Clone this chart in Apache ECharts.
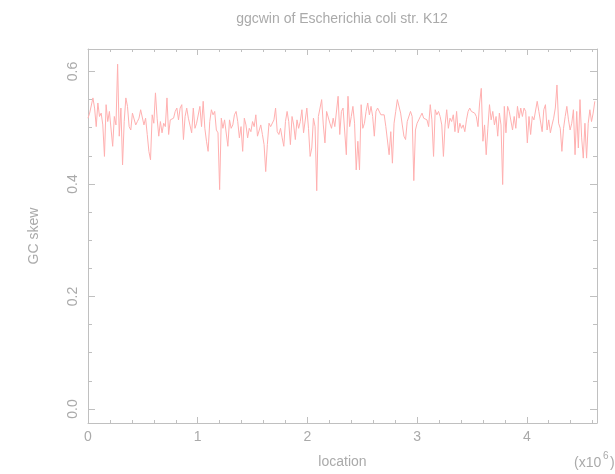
<!DOCTYPE html>
<html>
<head>
<meta charset="utf-8">
<script src="https://cdn.jsdelivr.net/npm/echarts@6/dist/echarts.min.js"></script>
<style>
html,body{margin:0;padding:0;background:#fff;}
#chart{width:615px;height:474px;}
</style>
</head>
<body>
<div id="chart"></div>
<script>
// ---- data (GC skew per window) ----
const titleText = 'ggcwin of Escherichia coli str. K12';
const xName = 'location';
const yName = 'GC skew';
const windowStepMb = 0.015; // window spacing, in units of 10^6 bp
const gcSkew = [
0.517,0.526,0.529,0.553,0.535,0.502,0.544,0.520,0.526,0.505,0.449,0.541,0.511,0.529,0.526,0.467,0.520,0.505,0.613,0.485,0.535,0.434,0.511,0.553,0.538,0.502,0.496,0.526,0.523,0.505,0.511,0.517,0.532,0.529,0.505,0.517,0.488,0.458,0.443,0.523,0.508,0.562,0.517,0.485,0.511,0.491,0.508,0.502,0.553,0.488,0.514,0.511,
0.517,0.529,0.535,0.514,0.535,0.541,0.479,0.520,0.535,0.517,0.520,0.491,0.535,0.499,0.508,0.505,0.538,0.502,0.547,0.499,0.476,0.458,0.511,0.532,0.523,0.529,0.496,0.491,0.390,0.517,0.499,0.514,0.517,0.467,0.514,0.499,0.505,0.523,0.529,0.511,0.482,0.502,0.458,0.517,0.505,0.482,0.499,0.493,0.511,0.502,0.523,0.485,
0.482,0.505,0.488,0.470,0.422,0.470,0.508,0.502,0.499,0.514,0.535,0.493,0.488,0.499,0.482,0.467,0.511,0.529,0.511,0.470,0.520,0.505,0.479,0.514,0.499,0.511,0.532,0.491,0.488,0.535,0.499,0.449,0.464,0.517,0.502,0.388,0.520,0.517,0.550,0.505,0.473,0.529,0.532,0.508,0.499,0.517,0.502,0.505,0.556,0.488,0.529,0.535,
0.538,0.452,0.556,0.502,0.520,0.538,0.508,0.425,0.476,0.425,0.541,0.499,0.508,0.529,0.544,0.523,0.538,0.520,0.485,0.529,0.535,0.532,0.523,0.520,0.523,0.502,0.499,0.452,0.493,0.437,0.508,0.529,0.550,0.553,0.526,0.505,0.485,0.479,0.511,0.508,0.529,0.520,0.406,0.496,0.508,0.514,0.520,0.526,0.517,0.520,0.514,0.502,0.541,
0.514,0.449,0.532,0.523,0.529,0.520,0.505,0.449,0.505,0.532,0.499,0.517,0.511,0.523,0.493,0.529,0.491,0.508,0.499,0.505,0.493,0.514,0.529,0.535,0.529,0.529,0.526,0.520,0.502,0.544,0.570,0.476,0.505,0.452,0.499,0.541,0.514,0.529,0.505,0.520,0.485,0.526,0.505,0.399,0.538,0.491,0.538,0.529,0.532,0.496,0.520,0.499,
0.538,0.517,0.535,0.520,0.535,0.529,0.473,0.520,0.488,0.520,0.514,0.517,0.547,0.529,0.526,0.493,0.532,0.541,0.496,0.514,0.491,0.505,0.517,0.535,0.576,0.508,0.499,0.458,0.499,0.520,0.538,0.514,0.496,0.508,0.532,0.452,0.529,0.464,0.550,0.482,0.446,0.508,0.446,0.508,0.532,0.511,0.526,0.547
];
const xMajorTicks = [0, 1, 2, 3, 4];
const xMinorTicks = [0.2,0.4,0.6,0.8,1.2,1.4,1.6,1.8,2.2,2.4,2.6,2.8,3.2,3.4,3.6,3.8,4.2,4.4,4.6];
const yMajorTicks = [0.0, 0.2, 0.4, 0.6];
const yMinorTicks = [0.05,0.1,0.15,0.25,0.3,0.35,0.45,0.5,0.55];
const xRange = [0, 4.64];
const yRange = [-0.025, 0.64];

// ---- chart ----
const frameColor = '#c0c0c0';
const textColor = '#aaaaaa';
const fontFamily = '"Liberation Sans", Arial, Helvetica, sans-serif';
const lineColor = '#ffb0b0';

const points = gcSkew.map((v, i) => [i * windowStepMb, v]);

function xAxisDef(pos, ticks, len, withLine, withLabel) {
  return {
    type: 'value', position: pos, min: xRange[0], max: xRange[1],
    axisLine: {show: withLine, onZero: false, lineStyle: {color: frameColor, width: 1}},
    axisTick: {show: true, inside: true, length: len, customValues: ticks, lineStyle: {color: frameColor, width: 1}},
    axisLabel: withLabel ? {show: true, customValues: ticks, margin: 7, color: textColor, fontSize: 14, fontFamily: fontFamily, formatter: v => String(v)} : {show: false},
    splitLine: {show: false},
    name: withLabel ? xName : '', nameLocation: 'middle', nameGap: 32,
    nameTextStyle: {color: textColor, fontSize: 14, fontFamily: fontFamily}
  };
}
function yAxisDef(pos, ticks, len, withLine, withLabel) {
  return {
    type: 'value', position: pos, min: yRange[0], max: yRange[1],
    axisLine: {show: withLine, onZero: false, lineStyle: {color: frameColor, width: 1}},
    axisTick: {show: true, inside: true, length: len, customValues: ticks, lineStyle: {color: frameColor, width: 1}},
    axisLabel: withLabel ? {show: true, customValues: ticks, margin: 8, rotate: 90, color: textColor, fontSize: 14, fontFamily: fontFamily, formatter: v => v.toFixed(1)} : {show: false},
    splitLine: {show: false},
    name: withLabel ? yName : '', nameLocation: 'middle', nameGap: 47, nameRotate: 90,
    nameTextStyle: {color: textColor, fontSize: 14, fontFamily: fontFamily}
  };
}

const chart = echarts.init(document.getElementById('chart'), null, {renderer: 'canvas'});
chart.setOption({
  animation: false,
  backgroundColor: '#ffffff',
  grid: {left: 88, right: 18, top: 49, bottom: 49, containLabel: false},
  xAxis: [
    xAxisDef('bottom', xMajorTicks, 6, true, true),
    xAxisDef('bottom', xMinorTicks, 3, false, false),
    xAxisDef('top', xMajorTicks, 6, true, false),
    xAxisDef('top', xMinorTicks, 3, false, false)
  ],
  yAxis: [
    yAxisDef('left', yMajorTicks, 7, true, true),
    yAxisDef('left', yMinorTicks, 4, false, false),
    yAxisDef('right', yMajorTicks, 7, true, false),
    yAxisDef('right', yMinorTicks, 4, false, false)
  ],
  graphic: [
    {type: 'text', x: 342, y: 19, style: {text: titleText, fill: textColor, font: '14px ' + fontFamily, textAlign: 'center', textVerticalAlign: 'middle'}},
    {type: 'text', x: 574, y: 463, style: {text: '(x10', fill: textColor, font: '14px ' + fontFamily, textAlign: 'left', textVerticalAlign: 'middle'}},
    {type: 'text', x: 603, y: 456, style: {text: '6', fill: textColor, font: '10px ' + fontFamily, textAlign: 'left', textVerticalAlign: 'middle'}},
    {type: 'text', x: 610, y: 463, style: {text: ')', fill: textColor, font: '14px ' + fontFamily, textAlign: 'left', textVerticalAlign: 'middle'}}
  ],
  series: [{
    type: 'line', xAxisIndex: 0, yAxisIndex: 0,
    data: points, showSymbol: false, symbol: 'none',
    lineStyle: {color: lineColor, width: 1},
    silent: true
  }]
});
</script>
</body>
</html>
